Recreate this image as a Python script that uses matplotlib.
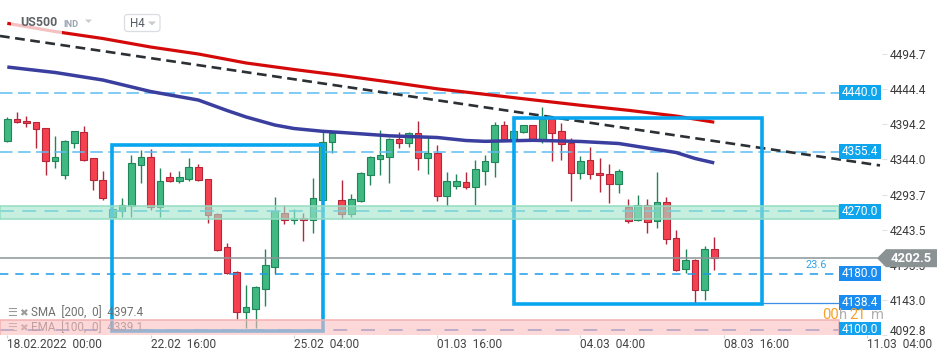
import matplotlib
matplotlib.use('Agg')
import matplotlib.pyplot as plt
import numpy as np
from matplotlib.patches import Rectangle, Polygon, FancyBboxPatch
from matplotlib.transforms import Affine2D, blended_transform_factory, ScaledTranslation

plt.rcParams['font.family'] = ['Roboto', 'DejaVu Sans']
plt.rcParams['lines.scale_dashes'] = False

# ---------------- data ----------------
opens = [4370.0, 4401.6, 4398.7, 4397.3, 4388.7, 4342.2, 4322.2, 4368.0, 4383.0, 4345.7,
         4314.6, 4261.1, 4270.6, 4277.3, 4336.5, 4347.1, 4275.4, 4318.4, 4313.6, 4316.0,
         4332.8, 4315.6, 4265.4, 4218.5, 4182.7, 4124.9, 4130.1, 4157.9, 4190.3, 4266.8,
         4257.2, 4259.7, 4257.2, 4285.9, 4369.5, 4285.9, 4266.3, 4284.9, 4322.2, 4345.1,
         4348.0, 4372.9, 4367.2, 4381.5, 4346.5, 4352.8, 4292.1, 4306.4, 4311.3, 4304.1,
         4327.9, 4339.9, 4393.0, 4373.8, 4383.0, 4393.0, 4373.8, 4401.6, 4384.4, 4367.2,
         4324.2, 4342.8, 4324.2, 4322.7, 4308.4, 4275.4, 4256.8, 4279.2, 4255.4, 4282.6,
         4231.0, 4186.6, 4199.5, 4156.5, 4215.2]
highs = [4404.4, 4411.6, 4406.7, 4397.7, 4389.1, 4377.6, 4371.9, 4385.5, 4392.0, 4346.1,
         4327.5, 4277.3, 4288.8, 4350.4, 4357.6, 4358.6, 4331.3, 4326.5, 4327.5, 4345.7,
         4337.5, 4316.0, 4267.7, 4223.8, 4183.7, 4164.0, 4162.6, 4215.7, 4290.2, 4278.7,
         4273.0, 4266.8, 4317.0, 4383.4, 4383.8, 4314.6, 4294.5, 4326.0, 4349.0, 4386.2,
         4374.3, 4383.4, 4383.4, 4399.1, 4374.3, 4364.7, 4326.0, 4323.2, 4326.0, 4343.2,
         4350.4, 4397.3, 4398.7, 4386.2, 4393.4, 4393.4, 4418.8, 4401.6, 4395.9, 4374.3,
         4349.0, 4361.4, 4345.7, 4337.1, 4329.9, 4286.9, 4292.6, 4286.9, 4325.6, 4289.8,
         4242.5, 4215.2, 4201.0, 4220.0, 4232.9]
lows = [4369.0, 4396.3, 4391.0, 4360.9, 4322.2, 4331.8, 4315.6, 4360.0, 4341.8, 4300.7,
        4285.9, 4260.1, 4262.0, 4261.1, 4309.8, 4271.6, 4262.0, 4311.7, 4310.7, 4313.6,
        4313.1, 4253.4, 4212.8, 4179.8, 4115.7, 4102.4, 4102.8, 4133.9, 4180.2, 4251.5,
        4251.5, 4227.6, 4239.0, 4285.9, 4353.7, 4259.1, 4262.0, 4283.5, 4307.8, 4322.2,
        4310.7, 4360.9, 4362.3, 4328.9, 4323.2, 4284.9, 4277.3, 4302.1, 4301.7, 4279.2,
        4307.8, 4319.3, 4370.9, 4372.6, 4382.0, 4371.9, 4368.0, 4342.2, 4343.2, 4284.9,
        4315.6, 4316.4, 4296.9, 4282.0, 4295.5, 4253.4, 4255.8, 4239.0, 4245.3, 4222.8,
        4184.0, 4181.7, 4137.8, 4142.6, 4185.6]
closes = [4401.6, 4397.3, 4395.9, 4387.2, 4342.2, 4347.1, 4370.0, 4384.4, 4343.2, 4314.1,
          4289.2, 4273.4, 4278.3, 4338.5, 4347.1, 4275.4, 4312.7, 4313.6, 4318.4, 4332.8,
          4314.1, 4264.0, 4213.8, 4180.8, 4124.9, 4132.1, 4160.8, 4192.3, 4269.7, 4257.2,
          4259.7, 4257.2, 4288.3, 4368.8, 4381.5, 4266.3, 4286.9, 4324.2, 4347.1, 4350.0,
          4372.9, 4368.0, 4381.5, 4346.5, 4352.8, 4292.1, 4312.7, 4312.7, 4305.0, 4329.9,
          4341.4, 4393.0, 4373.8, 4384.4, 4393.0, 4373.8, 4401.6, 4382.4, 4365.7, 4324.2,
          4341.4, 4322.7, 4321.3, 4308.4, 4327.0, 4255.4, 4279.2, 4253.9, 4282.6, 4229.6,
          4185.1, 4199.5, 4156.5, 4215.2, 4202.5]

# moving averages (candle index, value)
sma_idx = [0, 5, 10, 15, 20, 25, 30, 35, 40, 45, 50, 55, 60, 65, 70, 74]
sma_val = [4539.2, 4527.4, 4517.4, 4505.2, 4495.2, 4482.3, 4473.0, 4464.4, 4455.1,
           4445.3, 4437.4, 4429.5, 4421.7, 4414.5, 4406.3, 4397.4]
ema_idx = [0, 5, 10, 15, 20, 23, 25, 28, 30, 33, 35, 40, 45, 48, 50, 55, 60, 64, 67, 70, 72, 74]
ema_val = [4476.5, 4468.7, 4457.9, 4441.4, 4429.2, 4414.2, 4404.9, 4393.4, 4388.4, 4384.4,
           4382.7, 4377.9, 4375.5, 4371.2, 4370.0, 4371.5, 4369.8, 4366.9, 4360.4, 4354.0,
           4345.4, 4339.1]

# trend line anchors (candle index, price)
trend_idx = [0, 90]
trend_val = [4519.5, 4338.2]

# rectangles drawn on chart: (i0, i1, p_low, p_high)
box_i0 = [11, 53]
box_i1 = [33, 79]
box_lo = [4098.0, 4137.0]
box_hi = [4364.7, 4403.9]

levels = [4440.0, 4355.4, 4270.0, 4180.0, 4138.4, 4100.0]
level_labels = ['4440.0', '4355.4', '4270.0', '4180.0', '4138.4', '4100.0']
green_zone = [4258.2, 4277.3]
pink_zone = [4080.0, 4113.9]
last_price = 4202.5
fib_label = '23.6'

ytick_vals = [4092.8, 4143.0, 4193.3, 4243.5, 4293.7, 4344.0, 4394.2, 4444.4, 4494.7]
ytick_labels = ['4092.8', '4143.0', '4193.3', '4243.5', '4293.7', '4344.0', '4394.2', '4444.4', '4494.7']
xtick_idx = [0, 15, 30, 45, 60, 75, 90]
xtick_labels = ['18.02.2022  00:00', '22.02  16:00', '25.02  04:00', '01.03  16:00',
                '04.03  04:00', '08.03  16:00', '11.03  04:00']

# ---------------- figure ----------------
W, H = 950, 360
fig = plt.figure(figsize=(W / 100, H / 100), dpi=100)
fig.patch.set_facecolor('white')
ax = fig.add_axes([0, 25 / H, 882 / W, 335 / H])
ax.set_xlim(-0.764, 91.56)
ax.set_ylim(4092.4, 4572.6)
for s in ax.spines.values():
    s.set_visible(False)

pix = Affine2D().scale(1 / W, -1 / H).translate(0, 1) + fig.transFigure
pixx_data = blended_transform_factory(Affine2D().scale(1 / W, 1 / H) + fig.transFigure, ax.transData)
axx_data = blended_transform_factory(ax.transAxes, ax.transData)

# candles
o = np.array(opens); c = np.array(closes); hi = np.array(highs); lo = np.array(lows)
x = np.arange(len(o))
up = c >= o
fill = np.where(up, '#3fb882', '#f5414f')
edge = np.where(up, '#21855a', '#b5263a')
ax.vlines(x, lo, hi, colors=edge, linewidth=1.0, zorder=2.9)
bottom = np.minimum(o, c)
height = np.maximum(np.abs(c - o), 1.2)
ax.bar(x, height, width=0.7, bottom=bottom, color=fill, edgecolor=edge, linewidth=0.8, zorder=3)

# horizontal levels
xm = 839 / 882
ax.axhline(levels[0], xmin=0, xmax=xm, color='#5cbcf2', lw=1.1, dashes=(9, 4), zorder=3.5)
ax.axhline(levels[1], xmin=0, xmax=xm, color='#5cbcf2', lw=1.1, dashes=(9, 4), zorder=3.5)
ax.axhline(levels[2], xmin=0, xmax=xm, color='#35b4ec', lw=1.1, dashes=(10, 6), zorder=3.5)
ax.axhline(levels[3], xmin=0, xmax=xm, color='#1c9be8', lw=1.1, dashes=(6, 5), zorder=3.5)
ax.plot([box_i1[1], 91.56 * xm + (-0.764) * (1 - xm)], [levels[4], levels[4]],
        color='#3d8ee6', lw=0.9, zorder=3.5)
ax.axhline(levels[5], xmin=0, xmax=xm, color='#3a78d0', lw=1.1, dashes=(10, 10), zorder=3.5)
ax.axhline(last_price, xmin=0, xmax=877 / 882, color='#8c9497', lw=1.1, zorder=3.6)

# moving averages and trend line
ax.plot(ema_idx, ema_val, color='#3a3e9e', lw=2.5, zorder=4, solid_capstyle='butt')
ax.plot(sma_idx, sma_val, color='#d40a0a', lw=2.3, zorder=4.1, solid_capstyle='butt')
slope = (trend_val[1] - trend_val[0]) / (trend_idx[1] - trend_idx[0])
tx = np.array([-0.764, 91.35])
ax.plot(tx, trend_val[0] + slope * (tx - trend_idx[0]), color='#2b3035', lw=1.9,
        dashes=(7, 4), zorder=4.5)

# boxes
for i0, i1, b0, b1 in zip(box_i0, box_i1, box_lo, box_hi):
    ax.add_patch(Rectangle((i0, b0), i1 - i0, b1 - b0, fill=False, ec='#07a6ef',
                           lw=2.6, zorder=5, joinstyle='miter'))

# zones
ax.add_patch(Rectangle((0, green_zone[0]), xm, green_zone[1] - green_zone[0],
                       transform=axx_data, fc=(161 / 255, 229 / 255, 204 / 255, 0.6),
                       ec='#93dcc1', lw=1.1, zorder=6))
ax.add_patch(Rectangle((0, pink_zone[0]), xm, pink_zone[1] - pink_zone[0],
                       transform=axx_data, fc=(252 / 255, 190 / 255, 190 / 255, 0.6),
                       ec='#f4b0b2', lw=1.1, zorder=6))

# legend (below pink zone for EMA)
ax.text(7, 313, '☰', transform=pix, fontsize=8, color='#9a9a9a', va='center', ha='left', zorder=5)
ax.text(19, 313, '✖', transform=pix, fontsize=7.5, color='#9a9a9a', va='center', ha='left', zorder=5)
ax.text(31, 313, 'SMA  [200,  0]  4397.4', transform=pix, fontsize=8.4, color='#6f6f6f',
        va='center', ha='left', zorder=5)
ax.text(7, 328, '☰', transform=pix, fontsize=8, color='#9a9a9a', va='center', ha='left', zorder=5)
ax.text(19, 328, '✖', transform=pix, fontsize=7.5, color='#9a9a9a', va='center', ha='left', zorder=5)
ax.text(31, 328, 'EMA  [100,  0]  4339.1', transform=pix, fontsize=8.4, color='#6f6f6f',
        va='center', ha='left', zorder=5)

# level labels
box_colors = ['#0ea5ec', '#0ea5ec', '#0ea5ec', '#1a8cf0', '#1a8cf0', '#14a2ee']
for lv, lb, bc in zip(levels, level_labels, box_colors):
    ax.add_patch(Rectangle((839, lv - 10.75), 42, 21.5, transform=pixx_data, fc=bc,
                           ec='none', zorder=10))
    ax.text(860, lv, lb, transform=pixx_data, color='white', fontsize=8.6,
            ha='center', va='center', zorder=11, clip_on=True)

ax.text(816, 265.5, fib_label, transform=pix, color='#2ea3e6', fontsize=7.8,
        ha='center', va='center', zorder=9)

# countdown text
for px, s, col in [(822, '00', '#f5a128'), (839, 'h', '#b0b0b0'),
                   (849.5, '21', '#f5a128'), (870.5, 'm', '#b0b0b0')]:
    ax.text(px, 315, s, transform=pix, color=col, fontsize=10.6, ha='left', va='center', zorder=12)

# ticks
ax.yaxis.tick_right()
ax.set_yticks(ytick_vals, ytick_labels)
ax.set_xticks(xtick_idx, xtick_labels)
ax.tick_params(axis='y', which='major', length=3.6, width=0.8, color='#dfe2e4',
               pad=2, labelsize=8.6, labelcolor='#3a3a3a')
ax.tick_params(axis='x', which='major', length=2.2, width=0.8, color='#cfd3d6',
               pad=0, labelsize=8.6, labelcolor='#444444')
for lab in ax.get_xticklabels():
    lab.set_horizontalalignment('left')
ytk = ax.yaxis.get_major_ticks()
k = ytick_vals.index(4092.8)
ytk[k].label2.set_transform(ytk[k].label2.get_transform() +
                            ScaledTranslation(0, 5 / 100, fig.dpi_scale_trans))

# current price arrow label (drawn over the partly hidden 4193.3 tick label, as in the source)
arrow = Polygon([[877, last_price], [886, last_price + 12.9], [937, last_price + 12.9],
                 [937, last_price - 12.9], [886, last_price - 12.9]], closed=True,
                transform=pixx_data, fc='#8a9294', ec='none', zorder=20, clip_on=False)
ax.add_patch(arrow)
ax.text(911, last_price, '4202.5', transform=pixx_data, color='white', fontsize=9.4,
        fontweight='bold', ha='center', va='center', zorder=21, clip_on=False)

# header
fig.add_artist(Rectangle((11, 12), 51, 22, transform=pix, fc='white', ec='none', alpha=0.75))
fig.text(20, 23, 'US500', transform=pix, fontsize=8.9, fontweight='bold', color='#5f6368',
         ha='left', va='center')
fig.text(63.5, 24.3, 'IND', transform=pix, fontsize=6.6, fontweight='bold', color='#9aa5b1',
         ha='left', va='center')
fig.add_artist(Polygon([[85, 19.5], [92, 19.5], [88.5, 23]], closed=True, transform=pix,
                       fc='#c8ccd0', ec='none'))
fig.add_artist(FancyBboxPatch((124.5, 14.5), 35.5, 17, boxstyle='round,pad=0,rounding_size=3',
                              transform=pix, fc='white', ec='#dadde1', lw=0.9))
fig.text(130, 23.5, 'H4', transform=pix, fontsize=8.4, color='#555a60', ha='left', va='center')
fig.add_artist(Polygon([[148, 21.5], [156, 21.5], [152, 25.5]], closed=True, transform=pix,
                       fc='#c8ccd0', ec='none'))

fig.savefig('out.png', dpi=100, facecolor='white')
